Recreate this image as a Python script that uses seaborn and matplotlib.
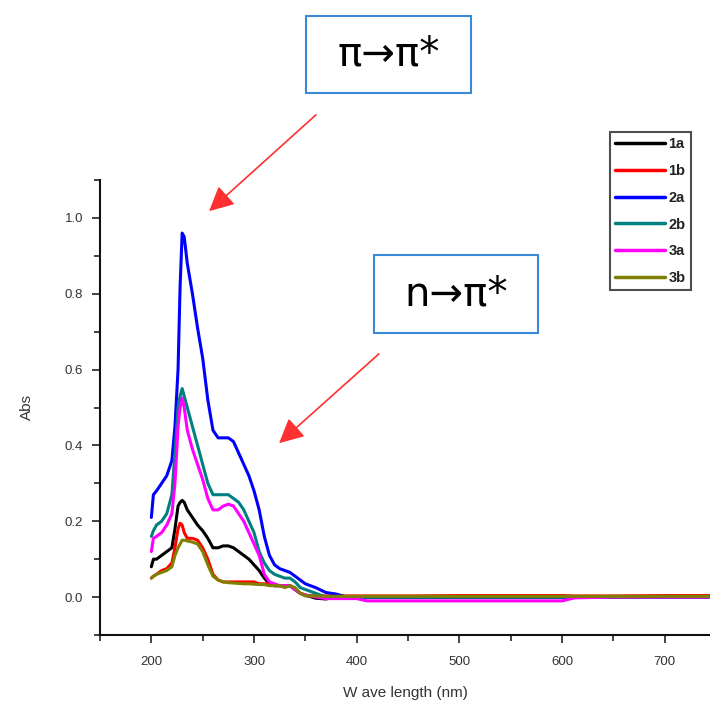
import numpy as np
import pandas as pd
import seaborn as sns
import matplotlib
matplotlib.use("Agg")
import matplotlib.pyplot as plt
from matplotlib.patches import Rectangle, FancyArrowPatch
from matplotlib.ticker import MultipleLocator

# ---------------- data ----------------
wavelength = [200, 202, 205, 210, 215, 220, 223, 226, 228, 230, 232, 235, 240, 245, 250, 255,
              260, 265, 270, 275, 280, 285, 290, 295, 300, 305, 310, 315, 320, 325, 330,
              335, 340, 345, 350, 360, 370, 380, 390, 400, 410, 450, 500, 550, 600, 612, 650, 700, 750]

abs_1a = [0.08, 0.10, 0.10, 0.11, 0.12, 0.13, 0.18, 0.24, 0.25, 0.255, 0.25, 0.23, 0.21, 0.19, 0.175, 0.155,
          0.13, 0.13, 0.135, 0.135, 0.13, 0.12, 0.11, 0.10, 0.085, 0.07, 0.05, 0.035, 0.03, 0.03, 0.03,
          0.03, 0.02, 0.01, 0.005, -0.003, -0.005, 0.0, 0.0, 0.0, 0.0, 0.0, 0.0, 0.0, 0.0, 0.0, 0.0, 0.0, 0.0]
abs_1b = [0.05, 0.055, 0.06, 0.07, 0.075, 0.09, 0.13, 0.18, 0.195, 0.19, 0.17, 0.155, 0.155, 0.15, 0.13, 0.10,
          0.06, 0.045, 0.04, 0.04, 0.04, 0.04, 0.04, 0.04, 0.04, 0.035, 0.035, 0.035, 0.03, 0.03, 0.03,
          0.03, 0.02, 0.01, 0.005, 0.003, 0.003, 0.003, 0.003, 0.003, 0.003, 0.003, 0.004, 0.004, 0.004, 0.003, 0.003, 0.004, 0.004]
abs_2a = [0.21, 0.27, 0.28, 0.30, 0.32, 0.36, 0.45, 0.60, 0.82, 0.96, 0.95, 0.88, 0.80, 0.71, 0.63, 0.52,
          0.44, 0.42, 0.42, 0.42, 0.41, 0.38, 0.35, 0.32, 0.28, 0.23, 0.16, 0.11, 0.085, 0.075, 0.07,
          0.065, 0.055, 0.045, 0.035, 0.025, 0.012, 0.008, 0.0, 0.0, 0.0, 0.0, 0.0, 0.0, 0.0, 0.0, 0.0, 0.0, 0.0]
abs_2b = [0.16, 0.175, 0.19, 0.20, 0.22, 0.27, 0.38, 0.50, 0.53, 0.55, 0.53, 0.50, 0.45, 0.40, 0.35, 0.30,
          0.27, 0.27, 0.27, 0.27, 0.26, 0.25, 0.23, 0.20, 0.17, 0.12, 0.09, 0.07, 0.06, 0.055, 0.05,
          0.05, 0.04, 0.025, 0.02, 0.01, 0.0, 0.0, 0.0, 0.0, 0.0, 0.0, 0.0, 0.0, 0.0, 0.0, 0.0, 0.0, 0.0]
abs_3a = [0.12, 0.155, 0.16, 0.17, 0.19, 0.22, 0.30, 0.45, 0.50, 0.525, 0.50, 0.44, 0.39, 0.35, 0.31, 0.26,
          0.23, 0.23, 0.24, 0.245, 0.24, 0.22, 0.20, 0.17, 0.14, 0.11, 0.06, 0.04, 0.035, 0.03, 0.03,
          0.03, 0.02, 0.01, 0.005, 0.0, -0.004, -0.004, -0.004, -0.004, -0.01, -0.01, -0.01, -0.01, -0.01, -0.002, 0.0, 0.0, 0.0]
abs_3b = [0.05, 0.055, 0.06, 0.065, 0.07, 0.08, 0.11, 0.13, 0.14, 0.15, 0.15, 0.148, 0.145, 0.14, 0.12, 0.085,
          0.055, 0.045, 0.04, 0.038, 0.037, 0.036, 0.035, 0.035, 0.034, 0.033, 0.033, 0.03, 0.03, 0.03, 0.025,
          0.03, 0.025, 0.01, 0.003, 0.003, 0.002, 0.002, 0.002, 0.002, 0.002, 0.002, 0.002, 0.002, 0.002, 0.002, 0.002, 0.002, 0.002]

series_names = ["1a", "1b", "2a", "2b", "3a", "3b"]
series_values = [abs_1a, abs_1b, abs_2a, abs_2b, abs_3a, abs_3b]
series_colors = ["#000000", "#ff0000", "#0000ff", "#008080", "#ff00ff", "#808000"]

x_ticks = [200, 300, 400, 500, 600, 700]
y_ticks = [0.0, 0.2, 0.4, 0.6, 0.8, 1.0]
x_label = "W ave length (nm)"
y_label = "Abs"
note_pi = "π→π*"
note_n = "n→π*"

df = pd.concat([pd.DataFrame({"Wavelength": wavelength, "Abs": v, "Sample": n})
                for n, v in zip(series_names, series_values)], ignore_index=True)

# ---------------- plot ----------------
sns.set_style("ticks")
plt.rcParams["font.family"] = ["Liberation Sans", "DejaVu Sans"]

W, H = 710, 704
fig = plt.figure(figsize=(W / 100, H / 100), dpi=100)
ax = fig.add_axes([100 / W, 1 - 635 / H, (W - 100) / W, (635 - 180) / H])

sns.lineplot(data=df, x="Wavelength", y="Abs", hue="Sample", hue_order=series_names,
             palette=dict(zip(series_names, series_colors)), linewidth=2.2, ax=ax,
             estimator=None, sort=False)

ax.set_xlim(150, 744)
ax.set_ylim(-0.1, 1.1)
ax.set_xticks(x_ticks)
ax.set_yticks(y_ticks)
ax.set_yticklabels([f"{t:.1f}" for t in y_ticks])
ax.xaxis.set_minor_locator(MultipleLocator(50))
ax.yaxis.set_minor_locator(MultipleLocator(0.1))
ax.tick_params(which="major", length=6, width=1.2, color="#222222", labelsize=9.5,
               labelcolor="#333333", direction="out")
ax.tick_params(which="minor", length=4, width=1.2, color="#222222", direction="out")
ax.tick_params(axis="x", pad=9)
ax.tick_params(axis="y", pad=6)
for s in ["top", "right"]:
    ax.spines[s].set_visible(False)
for s in ["left", "bottom"]:
    ax.spines[s].set_linewidth(1.5)
    ax.spines[s].set_color("#111111")

ax.set_xlabel(x_label, fontsize=11, color="#333333", labelpad=13)
ax.set_ylabel(y_label, fontsize=11, color="#333333", labelpad=22)

handles, labels = ax.get_legend_handles_labels()
for h in handles:
    h.set_linewidth(2.5)
leg = ax.legend(handles, labels, loc="upper left", bbox_to_anchor=(610 / W, 1 - 132 / H),
                bbox_transform=fig.transFigure, frameon=True, fancybox=False,
                handlelength=3.4, handletextpad=0.25, labelspacing=0.88, borderpad=0.35,
                borderaxespad=0, prop={"weight": "bold", "size": 10.5})
leg.get_frame().set_edgecolor("#222222")
leg.get_frame().set_linewidth(1.5)
for t in leg.get_texts():
    t.set_color("#222222")

# annotation boxes
def box(x0, y0, x1, y1, text):
    r = Rectangle((x0 / W, 1 - y1 / H), (x1 - x0) / W, (y1 - y0) / H, transform=fig.transFigure,
                  facecolor="white", edgecolor="#3a8ad6", linewidth=1.5)
    fig.add_artist(r)
    fig.text((x0 + x1) / 2 / W, 1 - (y0 + y1) / 2 / H, text, ha="center", va="center",
             fontsize=29, color="black", family=["DejaVu Sans"])

box(306, 16, 471, 93, note_pi)
box(374, 255, 538, 333, note_n)

def arrow(x0, y0, x1, y1):
    a = FancyArrowPatch((x0 / W, 1 - y0 / H), (x1 / W, 1 - y1 / H), transform=fig.transFigure,
                        arrowstyle="-|>,head_length=10,head_width=5", mutation_scale=1.5,
                        color="#ff3030", linewidth=1.2)
    fig.add_artist(a)

arrow(318, 113, 207, 213)
arrow(381, 352, 277, 445)

fig.savefig("out.png", dpi=100)
